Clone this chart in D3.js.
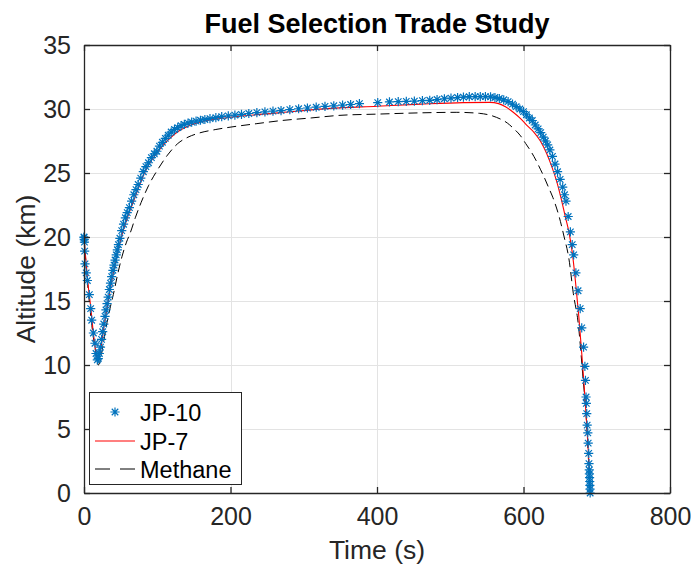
<!DOCTYPE html>
<html>
<head>
<meta charset="utf-8">
<script src="https://cdn.jsdelivr.net/npm/d3@7"></script>
<style>
  html, body { margin: 0; padding: 0; background: #fff; }
  svg { display: block; font-family: "Liberation Sans", Arial, Helvetica, sans-serif; }
</style>
</head>
<body>
<svg id="chart" width="691" height="572"></svg>
<script>
// Trajectory altitude vs. time for three candidate fuels

const xTicks = [0, 200, 400, 600, 800];
const yTicks = [0, 5, 10, 15, 20, 25, 30, 35];

// JP-10 solver output samples (time s, altitude km)
const jp10Time = [
  0, 0.15, 0.35, 0.6, 0.9, 1.4, 3.0, 4.6, 7.3, 9.1, 10.5, 12.8, 15.0, 16.4, 18.2,
  19.5, 21, 22.5, 24, 25.5, 27, 28.7, 30, 31.5, 33, 34.6, 36.2, 37.8, 39.5, 41, 42.4,
  44, 45.5, 47, 49, 51.5, 54, 56.5, 59, 62, 65, 68, 71, 74, 77.5, 81, 84.5, 88, 92,
  96, 99.5, 103, 107, 111, 115, 119, 123.5, 128, 132.5, 137, 142, 147, 153, 159, 165,
  172, 180, 188, 197, 206, 215, 225, 236, 247, 258, 269, 281, 293, 305, 317, 329, 341,
  353, 364, 376, 401, 417, 429, 440, 451, 462, 472, 482, 492, 501, 510, 518, 526, 534,
  541, 548, 555, 561, 567, 573, 579, 585, 590, 595, 600, 604, 608, 612, 616, 620,
  623.5, 627, 630, 633, 636, 639.5, 643, 646.5, 650, 653.5, 656, 658, 661, 664, 666.5,
  668.5, 671.5, 674.5, 677.4, 679.5, 682, 683.8, 684.6, 685.4, 685.8, 686.3, 686.9,
  687.8, 688.3, 689, 689.4, 689.8, 690, 690.2, 690.4, 690.6, 690.8, 691
];
const jp10Alt = [
  20.0, 19.95, 19.8, 19.6, 18.9, 17.9, 17.2, 16.6, 15.5, 14.4, 13.5, 12.5, 11.7, 10.9, 10.4,
  10.5, 10.9, 11.4, 12.0, 12.6, 13.2, 13.8, 14.3, 14.8, 15.3, 15.9, 16.4, 16.9, 17.4, 17.8, 18.2,
  18.6, 19.0, 19.4, 19.9, 20.5, 21.0, 21.5, 21.9, 22.3, 22.8, 23.3, 23.7, 24.1, 24.6, 25.1, 25.5, 25.8, 26.2,
  26.5, 26.7, 27.1, 27.4, 27.7, 27.95, 28.2, 28.4, 28.55, 28.7, 28.8, 28.9, 28.98, 29.05, 29.12, 29.18,
  29.25, 29.32, 29.4, 29.46, 29.52, 29.58, 29.65, 29.72, 29.78, 29.83, 29.88, 29.95, 30.02, 30.08, 30.14, 30.2, 30.25,
  30.3, 30.35, 30.42, 30.5, 30.55, 30.58, 30.6, 30.62, 30.65, 30.68, 30.74, 30.8, 30.85, 30.9, 30.93, 30.96, 30.97,
  30.97, 30.97, 30.95, 30.9, 30.82, 30.72, 30.58, 30.38, 30.18, 30.0, 29.8, 29.55, 29.3, 29.1, 28.75, 28.45,
  28.15, 27.8, 27.5, 27.2, 26.8, 26.3, 25.7, 25.1, 24.5, 23.9, 23.3, 22.8, 21.6, 20.4, 19.4,
  18.6, 17.2, 15.8, 14.4, 12.9, 11.4, 9.9, 8.8, 7.5, 7.0, 6.2, 5.3,
  4.7, 3.9, 3.1, 2.3, 1.8, 1.5, 1.2, 0.9, 0.6, 0.3, 0.0
];

// JP-7 trajectory
const jp7Time = [
  0, 2, 5, 9, 13, 16, 18.5, 20.5, 23, 27, 32, 38, 45, 52, 58, 65, 73, 81, 90, 100,
  110, 120, 130, 142, 160, 200, 270, 336, 400, 460, 518, 554, 566, 576, 586, 596,
  605, 614, 623, 631, 638, 645, 651, 657, 662.3, 667, 671.5, 675.5, 679.4, 683, 686,
  688.5, 690, 691
];
const jp7Alt = [
  20.0, 18.6, 16.6, 14.6, 12.4, 11.1, 10.5, 10.6, 11.3, 12.9, 14.6, 16.6, 18.5, 20.2, 21.3, 22.4, 23.6, 24.8, 25.8, 26.6,
  27.3, 27.85, 28.3, 28.65, 29.0, 29.35, 29.72, 30.05, 30.22, 30.38, 30.5, 30.52, 30.42, 30.15, 29.75, 29.25,
  28.7, 28.2, 27.5, 26.6, 25.6, 24.4, 23.1, 21.6, 20.3, 18.6, 16.2, 13.8, 11.0, 8.2, 5.6,
  3.2, 1.5, 0.0
];

// Methane trajectory
const methaneTime = [
  0, 4, 8, 12, 16, 19.5, 22, 25, 30, 35, 40, 46, 52, 58, 63, 70, 78, 88, 101, 114,
  128, 142, 156, 180, 202, 235, 270, 310, 348, 400, 460, 509, 540, 563, 578, 586,
  596, 603, 610, 617, 623, 628, 634, 640, 648.6, 655.5, 662, 668, 674.8, 680.8,
  686.3, 690, 691
];
const methaneAlt = [
  20.0, 17.0, 14.5, 12.5, 11.0, 10.0, 10.3, 11.2, 12.9, 14.3, 15.5, 17.1, 18.5, 19.6, 20.3, 21.5, 22.7, 24.0, 25.3, 26.4,
  27.3, 27.8, 28.1, 28.4, 28.6, 28.85, 29.1, 29.3, 29.5, 29.6, 29.7, 29.74, 29.66, 29.35, 28.9, 28.5,
  27.9, 27.3, 26.7, 26.0, 25.3, 24.7, 23.9, 23.1, 21.6, 20.0, 18.3, 15.6, 13.2, 9.3,
  5.3, 1.1, 0.0
];

const seriesNames = ["JP-10", "JP-7", "Methane"];

const W = 691, H = 572;
const plot = { left: 84, right: 670, top: 45, bottom: 493 };
const axisColor = "#262626";
const blue = "#0072BD";

const svg = d3.select("#chart");
svg.append("rect").attr("width", W).attr("height", H).attr("fill", "#fff");

const x = d3.scaleLinear().domain([0, 800]).range([plot.left, plot.right]);
const y = d3.scaleLinear().domain([0, 35]).range([plot.bottom, plot.top]);

// grid
const grid = svg.append("g").attr("stroke", "#e3e3e3").attr("stroke-width", 1);
grid.selectAll("line.gx").data(xTicks.slice(1, -1)).join("line")
  .attr("x1", d => Math.round(x(d)) + 0.5).attr("x2", d => Math.round(x(d)) + 0.5)
  .attr("y1", plot.top).attr("y2", plot.bottom);
grid.selectAll("line.gy").data(yTicks.slice(1, -1)).join("line")
  .attr("y1", d => Math.round(y(d)) + 0.5).attr("y2", d => Math.round(y(d)) + 0.5)
  .attr("x1", plot.left).attr("x2", plot.right);

// data
const lineGen = d3.line().x(d => x(d[0])).y(d => y(d[1])).curve(d3.curveMonotoneX);
const zip = (a, b) => a.map((v, i) => [v, b[i]]);

svg.append("path")
  .datum(zip(methaneTime, methaneAlt))
  .attr("d", lineGen)
  .attr("fill", "none").attr("stroke", "#000").attr("stroke-width", 1)
  .attr("stroke-dasharray", "9,5");

svg.append("path")
  .datum(zip(jp7Time, jp7Alt))
  .attr("d", lineGen)
  .attr("fill", "none").attr("stroke", "#ff0000").attr("stroke-width", 1.1);

// asterisk marker
function asterisk(r) {
  const d = r * Math.SQRT1_2;
  return `M${-r},0L${r},0M0,${-r}L0,${r}M${-d},${-d}L${d},${d}M${-d},${d}L${d},${-d}`;
}

svg.append("g")
  .selectAll("path")
  .data(zip(jp10Time, jp10Alt))
  .join("path")
  .attr("transform", d => `translate(${x(d[0])},${y(d[1])})`)
  .attr("d", asterisk(4.6))
  .attr("fill", "none").attr("stroke", blue).attr("stroke-width", 1.2);

// axes (ticks inward, box on)
const tickLen = 6;
const fmt = d3.format("d");

const axB = svg.append("g").attr("transform", `translate(0,${plot.bottom})`)
  .call(d3.axisBottom(x).tickValues(xTicks).tickFormat(fmt).tickSizeInner(-tickLen).tickSizeOuter(0).tickPadding(14));
const axT = svg.append("g").attr("transform", `translate(0,${plot.top})`)
  .call(d3.axisTop(x).tickValues(xTicks).tickFormat("").tickSizeInner(-tickLen).tickSizeOuter(0));
const axL = svg.append("g").attr("transform", `translate(${plot.left},0)`)
  .call(d3.axisLeft(y).tickValues(yTicks).tickFormat(fmt).tickSizeInner(-tickLen).tickSizeOuter(0).tickPadding(13));
const axR = svg.append("g").attr("transform", `translate(${plot.right},0)`)
  .call(d3.axisRight(y).tickValues(yTicks).tickFormat("").tickSizeInner(-tickLen).tickSizeOuter(0));

[axB, axT, axL, axR].forEach(g => {
  g.select(".domain").attr("stroke", axisColor).attr("stroke-width", 1.3);
  g.selectAll(".tick line").attr("stroke", axisColor).attr("stroke-width", 1.3);
  g.selectAll(".tick text").attr("fill", axisColor)
    .style("font-family", "'Liberation Sans', Arial, sans-serif").style("font-size", "25px");
});

// titles
svg.append("text")
  .attr("x", (plot.left + plot.right) / 2).attr("y", 33)
  .attr("text-anchor", "middle")
  .style("font-size", "27px").style("font-weight", "bold").attr("fill", "#000")
  .text("Fuel Selection Trade Study");

svg.append("text")
  .attr("x", (plot.left + plot.right) / 2).attr("y", 559)
  .attr("text-anchor", "middle")
  .style("font-size", "26.5px").attr("fill", axisColor)
  .text("Time (s)");

svg.append("text")
  .attr("transform", `translate(35,${(plot.top + plot.bottom) / 2}) rotate(-90)`)
  .attr("text-anchor", "middle")
  .style("font-size", "26.5px").attr("fill", axisColor)
  .text("Altitude (km)");

// legend
const lg = svg.append("g");
lg.append("rect")
  .attr("x", 89.5).attr("y", 392.5).attr("width", 152).attr("height", 92)
  .attr("fill", "#fff").attr("stroke", axisColor).attr("stroke-width", 1);

const rows = [412, 441, 469];
lg.append("path")
  .attr("transform", `translate(115,${rows[0]})`)
  .attr("d", asterisk(4.6))
  .attr("fill", "none").attr("stroke", blue).attr("stroke-width", 1.2);
lg.append("line")
  .attr("x1", 95).attr("x2", 135).attr("y1", rows[1]).attr("y2", rows[1])
  .attr("stroke", "#ff0000").attr("stroke-width", 1.1);
lg.append("line")
  .attr("x1", 95).attr("x2", 135).attr("y1", rows[2]).attr("y2", rows[2])
  .attr("stroke", "#000").attr("stroke-width", 1).attr("stroke-dasharray", "15,10");

lg.selectAll("text.lbl").data(seriesNames).join("text")
  .attr("class", "lbl")
  .attr("x", 140).attr("y", (d, i) => rows[i] + 8.5)
  .style("font-size", "23.5px").attr("fill", "#000")
  .text(d => d);
</script>
</body>
</html>
